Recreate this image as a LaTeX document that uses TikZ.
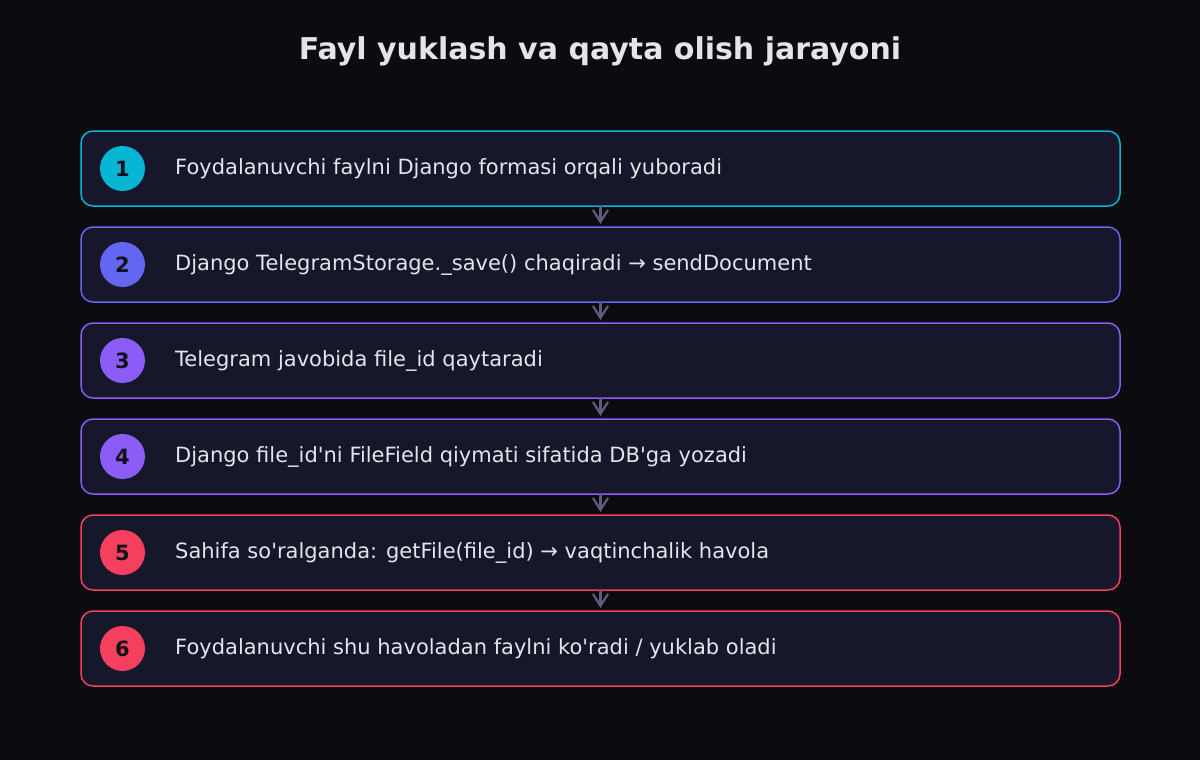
\documentclass[tikz,border=0pt]{standalone}
\usepackage{fontspec}
\setmainfont{DejaVu Sans}
\usetikzlibrary{positioning,arrows.meta}

\definecolor{bgdark}{HTML}{0B0B10}
\definecolor{cardfill}{HTML}{16172B}
\definecolor{cyanline}{HTML}{06B6D4}
\definecolor{indigoline}{HTML}{6366F1}
\definecolor{violetline}{HTML}{8B5CF6}
\definecolor{roseline}{HTML}{F43F5E}
\definecolor{arrowgray}{HTML}{5E5E7C}
\definecolor{lighttext}{HTML}{E4E4EA}
\definecolor{numtext}{HTML}{111118}
\newcommand{\ap}{\textquotesingle}

\begin{document}
\begin{tikzpicture}[x=1pt,y=-1pt,
	stepbox/.style={draw=#1,fill=cardfill,line width=1.5pt,rounded corners=12pt,minimum width=1039pt,minimum height=75pt,inner sep=0pt,outer sep=0pt},
	numdot/.style={circle,fill=#1,minimum size=45pt,inner sep=0pt,text=numtext,font=\fontsize{21}{21}\selectfont\bfseries},
	steptext/.style={anchor=west,inner sep=0pt,text=lighttext,font=\fontsize{21}{24}\selectfont},
	flow/.style={draw=arrowgray,line width=2.2pt,-{Straight Barb[length=12pt,width=15pt]}}]
	\fill[bgdark] (0,0) rectangle (1200,760);
	\node[text=lighttext,font=\fontsize{30}{34}\selectfont\bfseries] (title) at (600,51.5) {Fayl yuklash va qayta olish jarayoni};
	% steps
	\node[stepbox=cyanline] (s1) at (600.5,168.5) {};
	\node[stepbox=indigoline,below=21pt of s1] (s2) {};
	\node[stepbox=violetline,below=21pt of s2] (s3) {};
	\node[stepbox=violetline,below=21pt of s3] (s4) {};
	\node[stepbox=roseline,below=21pt of s4] (s5) {};
	\node[stepbox=roseline,below=21pt of s5] (s6) {};
	% numbers
	\node[numdot=cyanline] (n1) at ([xshift=41.5pt]s1.west) {1};
	\node[numdot=indigoline] (n2) at ([xshift=41.5pt]s2.west) {2};
	\node[numdot=violetline] (n3) at ([xshift=41.5pt]s3.west) {3};
	\node[numdot=violetline] (n4) at ([xshift=41.5pt]s4.west) {4};
	\node[numdot=roseline] (n5) at ([xshift=41.5pt]s5.west) {5};
	\node[numdot=roseline] (n6) at ([xshift=41.5pt]s6.west) {6};
	% texts
	\node[steptext] (t1) at ([xshift=94pt]s1.west) {Foydalanuvchi faylni Django formasi orqali yuboradi};
	\node[steptext] (t2) at ([xshift=94pt]s2.west) {Django TelegramStorage.\_save() chaqiradi → sendDocument};
	\node[steptext] (t3) at ([xshift=94pt]s3.west) {Telegram javobida file\_id qaytaradi};
	\node[steptext] (t4) at ([xshift=94pt]s4.west) {Django file\_id\ap ni FileField qiymati sifatida DB\ap ga yozadi};
	\node[steptext] (t5) at ([xshift=94pt]s5.west) {Sahifa so\ap ralganda: getFile(file\_id) → vaqtinchalik havola};
	\node[steptext] (t6) at ([xshift=94pt]s6.west) {Foydalanuvchi shu havoladan faylni ko\ap radi / yuklab oladi};
	% arrows
	\draw[flow] (s1.south) -- ([yshift=3pt]s2.north);
	\draw[flow] (s2.south) -- ([yshift=3pt]s3.north);
	\draw[flow] (s3.south) -- ([yshift=3pt]s4.north);
	\draw[flow] (s4.south) -- ([yshift=3pt]s5.north);
	\draw[flow] (s5.south) -- ([yshift=3pt]s6.north);
\end{tikzpicture}
\end{document}
